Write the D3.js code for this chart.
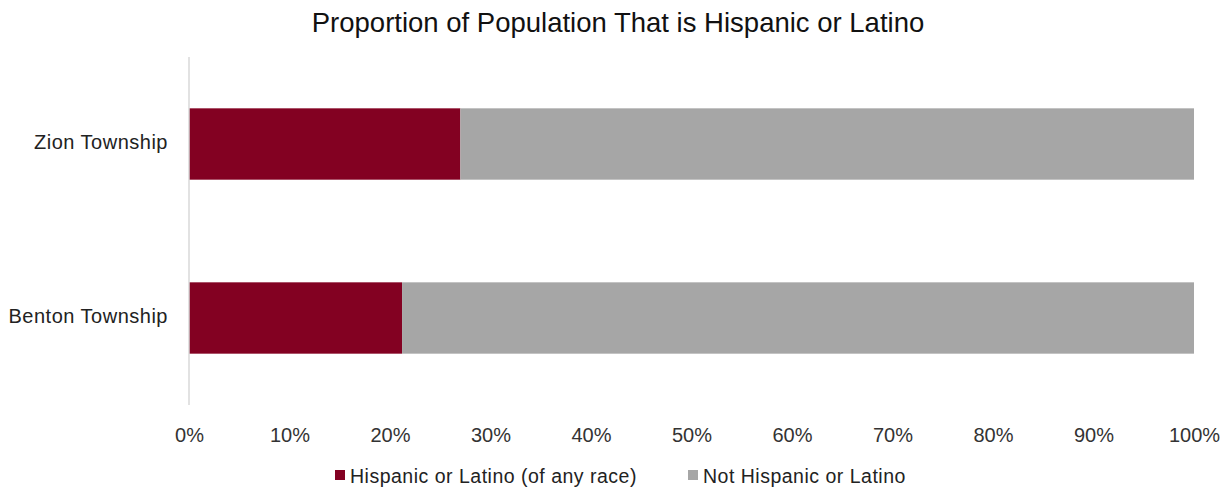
<!DOCTYPE html>
<html>
<head>
<meta charset="utf-8">
<script src="https://cdn.jsdelivr.net/npm/d3@7"></script>
<style>
  body { margin: 0; background: #fff; }
  text { font-family: "Liberation Sans", Arial, sans-serif; }
</style>
</head>
<body>
<div id="chart"></div>
<script>
// data
const categories = ["Zion Township", "Benton Township"];
const hispanic = [0.27, 0.212];
const notHispanic = [0.73, 0.788];
const seriesNames = ["Hispanic or Latino (of any race)", "Not Hispanic or Latino"];
const tickValues = [0, 0.1, 0.2, 0.3, 0.4, 0.5, 0.6, 0.7, 0.8, 0.9, 1.0];

const width = 1231, height = 492;
const margin = { top: 57, right: 37, bottom: 87, left: 189 };
const colors = ["#830122", "#a6a6a6"];

const svg = d3.select("#chart")
  .append("svg")
  .attr("width", width)
  .attr("height", height);

// title
svg.append("text")
  .attr("x", 618)
  .attr("y", 32)
  .attr("text-anchor", "middle")
  .style("font-size", "27.5px")
  .style("fill", "#111")
  .text("Proportion of Population That is Hispanic or Latino");

const x = d3.scaleLinear()
  .domain([0, 1])
  .range([margin.left, width - margin.right]);

const y = d3.scaleBand()
  .domain(categories)
  .range([margin.top, height - margin.bottom])
  .paddingInner(0.59)
  .paddingOuter(0.295);

const rows = categories.map((c, i) => ({ cat: c, a: hispanic[i], b: notHispanic[i] }));
const stacked = d3.stack().keys(["a", "b"])(rows);

const g = svg.append("g");
stacked.forEach((layer, li) => {
  g.selectAll(null)
    .data(layer)
    .enter()
    .append("rect")
    .attr("x", (d) => x(d[0]))
    .attr("y", (d) => y(d.data.cat))
    .attr("width", (d) => x(d[1]) - x(d[0]))
    .attr("height", y.bandwidth())
    .style("fill", colors[li]);
});

// y axis line
svg.append("line")
  .attr("x1", x(0)).attr("x2", x(0))
  .attr("y1", margin.top).attr("y2", height - margin.bottom)
  .style("stroke", "#d9d9d9")
  .style("stroke-width", 1.5);

// category labels
svg.selectAll(".cat")
  .data(categories)
  .enter()
  .append("text")
  .attr("class", "cat")
  .attr("x", 168)
  .attr("y", (d) => y(d) + y.bandwidth() / 2)
  .attr("text-anchor", "end")
  .attr("dominant-baseline", "middle")
  .style("font-size", "20px")
  .style("letter-spacing", "0.5px")
  .style("fill", "#222")
  .text((d) => d);

// x axis labels
const xAxis = d3.axisBottom(x)
  .tickValues(tickValues)
  .tickFormat(d3.format(".0%"))
  .tickSize(0)
  .tickPadding(0);

const ax = svg.append("g")
  .attr("transform", `translate(0, ${height - margin.bottom + 23})`)
  .call(xAxis);
ax.select(".domain").remove();
ax.selectAll("text")
  .style("font-size", "20px")
  .style("fill", "#333")
  .style("font-family", "'Liberation Sans', Arial, sans-serif");

// legend
const legendX = [335, 688];
const legend = svg.selectAll(".leg")
  .data(seriesNames)
  .enter()
  .append("g")
  .attr("transform", (d, i) => `translate(${legendX[i]}, 478)`);

legend.append("rect")
  .attr("x", 0)
  .attr("y", -8)
  .attr("width", 10)
  .attr("height", 10)
  .style("fill", (d, i) => colors[i]);

legend.append("text")
  .attr("x", 15)
  .attr("y", 0)
  .attr("dominant-baseline", "middle")
  .style("font-size", "19.5px")
  .style("letter-spacing", "0.5px")
  .style("fill", "#222")
  .text((d) => d);
</script>
</body>
</html>
